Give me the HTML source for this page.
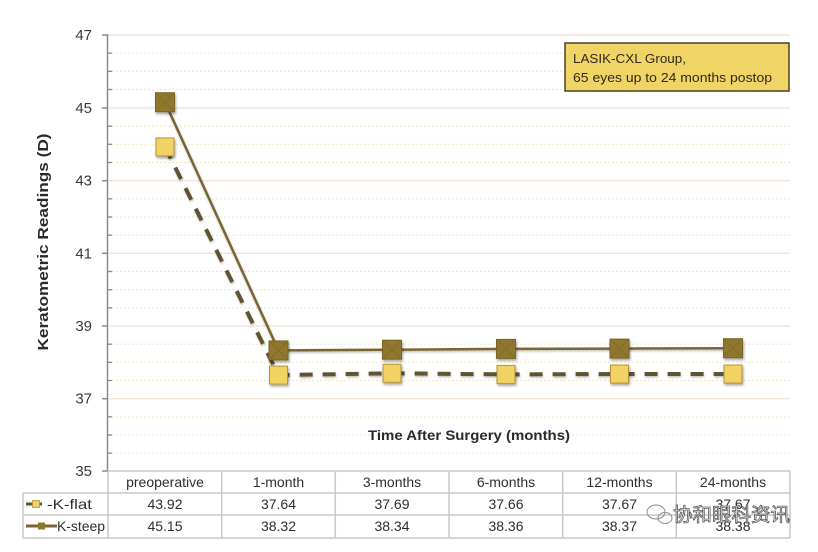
<!DOCTYPE html>
<html><head><meta charset="utf-8"><style>
html,body{margin:0;padding:0;background:#fff;}
svg{display:block;}
text{font-family:"Liberation Sans","Noto Sans CJK SC",sans-serif;}
</style></head><body>
<svg width="818" height="552" viewBox="0 0 818 552" xmlns="http://www.w3.org/2000/svg">
<defs>
<filter id="sh" x="-30%" y="-30%" width="160%" height="160%">
<feDropShadow dx="1" dy="2" stdDeviation="1.2" flood-color="#000" flood-opacity="0.35"/>
</filter>
<filter id="lsh" x="-10%" y="-10%" width="120%" height="120%">
<feDropShadow dx="0.5" dy="1.5" stdDeviation="1" flood-color="#000" flood-opacity="0.25"/>
</filter>
</defs>
<rect width="818" height="552" fill="#fff"/>

<!-- minor dotted gridlines -->
<g stroke="#eeecc8" stroke-width="1.2" stroke-dasharray="2,2">
<line x1="108" x2="790" y1="53.2" y2="53.2"/>
<line x1="108" x2="790" y1="71.3" y2="71.3"/>
<line x1="108" x2="790" y1="89.5" y2="89.5"/>
<line x1="108" x2="790" y1="126.2" y2="126.2"/>
<line x1="108" x2="790" y1="144.3" y2="144.3"/>
<line x1="108" x2="790" y1="162.5" y2="162.5"/>
<line x1="108" x2="790" y1="198.8" y2="198.8"/>
<line x1="108" x2="790" y1="217" y2="217"/>
<line x1="108" x2="790" y1="235.2" y2="235.2"/>
<line x1="108" x2="790" y1="271.5" y2="271.5"/>
<line x1="108" x2="790" y1="289.7" y2="289.7"/>
<line x1="108" x2="790" y1="307.8" y2="307.8"/>
<line x1="108" x2="790" y1="344.2" y2="344.2"/>
<line x1="108" x2="790" y1="362.3" y2="362.3"/>
<line x1="108" x2="790" y1="380.5" y2="380.5"/>
<line x1="108" x2="790" y1="416.8" y2="416.8"/>
<line x1="108" x2="790" y1="435" y2="435"/>
<line x1="108" x2="790" y1="453.2" y2="453.2"/>
</g>
<!-- major gridlines -->
<g stroke="#f4e6da" stroke-width="1.5">
<line x1="108" x2="790" y1="35" y2="35"/>
<line x1="108" x2="790" y1="108" y2="108"/>
<line x1="108" x2="790" y1="180.7" y2="180.7"/>
<line x1="108" x2="790" y1="253.3" y2="253.3"/>
<line x1="108" x2="790" y1="326" y2="326"/>
<line x1="108" x2="790" y1="398.7" y2="398.7"/>
</g>

<!-- y axis -->
<g stroke="#8a8a8a" stroke-width="1.5">
<line x1="107.5" x2="107.5" y1="35" y2="471"/>
<line x1="102" x2="108" y1="35" y2="35"/>
<line x1="102" x2="108" y1="108" y2="108"/>
<line x1="102" x2="108" y1="180.7" y2="180.7"/>
<line x1="102" x2="108" y1="253.3" y2="253.3"/>
<line x1="102" x2="108" y1="326" y2="326"/>
<line x1="102" x2="108" y1="398.7" y2="398.7"/>
<line x1="102" x2="108" y1="471" y2="471"/>
</g>
<g stroke="#8a8a8a" stroke-width="1.3">
<line x1="107" x2="112" y1="53.2" y2="53.2"/><line x1="107" x2="112" y1="71.3" y2="71.3"/><line x1="107" x2="112" y1="89.5" y2="89.5"/>
<line x1="107" x2="112" y1="126.2" y2="126.2"/><line x1="107" x2="112" y1="144.3" y2="144.3"/><line x1="107" x2="112" y1="162.5" y2="162.5"/>
<line x1="107" x2="112" y1="198.8" y2="198.8"/><line x1="107" x2="112" y1="217" y2="217"/><line x1="107" x2="112" y1="235.2" y2="235.2"/>
<line x1="107" x2="112" y1="271.5" y2="271.5"/><line x1="107" x2="112" y1="289.7" y2="289.7"/><line x1="107" x2="112" y1="307.8" y2="307.8"/>
<line x1="107" x2="112" y1="344.2" y2="344.2"/><line x1="107" x2="112" y1="362.3" y2="362.3"/><line x1="107" x2="112" y1="380.5" y2="380.5"/>
<line x1="107" x2="112" y1="416.8" y2="416.8"/><line x1="107" x2="112" y1="435" y2="435"/><line x1="107" x2="112" y1="453.2" y2="453.2"/>
</g>
<g font-size="15" fill="#3a3a3a" text-anchor="end">
<text x="92" y="40">47</text>
<text x="92" y="113">45</text>
<text x="92" y="185.7">43</text>
<text x="92" y="258.3">41</text>
<text x="92" y="331">39</text>
<text x="92" y="403.7">37</text>
<text x="92" y="476">35</text>
</g>
<text transform="translate(48,242) rotate(-90)" text-anchor="middle" font-size="15" font-weight="bold" fill="#2a2a2a" textLength="217" lengthAdjust="spacingAndGlyphs">Keratometric Readings (D)</text>

<text x="469" y="440" text-anchor="middle" font-size="14" font-weight="bold" fill="#2a2a2a" textLength="202" lengthAdjust="spacingAndGlyphs">Time After Surgery (months)</text>

<!-- annotation -->
<rect x="565" y="43" width="224" height="48" fill="#f1d466" stroke="#4a4024" stroke-width="1.5"/>
<text x="573" y="63" font-size="13" fill="#2e2a1a" textLength="113" lengthAdjust="spacingAndGlyphs">LASIK-CXL Group,</text>
<text x="573" y="82" font-size="13" fill="#2e2a1a" textLength="199" lengthAdjust="spacingAndGlyphs">65 eyes up to 24 months postop</text>

<!-- lines -->
<g filter="url(#lsh)">
<polyline points="165,146.9 278.5,375.1 392,373.3 506,374.4 619.5,374 733,374" fill="none" stroke="#5e5332" stroke-width="4" stroke-dasharray="13,10"/>
<polyline points="165,102.2 278.5,350.4 392,349.7 506,348.9 619.5,348.6 733,348.2" fill="none" stroke="#7a6530" stroke-width="2.5"/>
</g>

<!-- flat markers -->
<g filter="url(#sh)" fill="#f2d263" stroke="#b3953c" stroke-width="1">
<rect x="156" y="137.9" width="18" height="18"/>
<rect x="269.5" y="366.1" width="18" height="18"/>
<rect x="383" y="364.3" width="18" height="18"/>
<rect x="497" y="365.4" width="18" height="18"/>
<rect x="610.5" y="365" width="18" height="18"/>
<rect x="724" y="365" width="18" height="18"/>
</g>
<!-- steep markers -->
<g filter="url(#sh)" fill="#90772f" stroke="#7a6325" stroke-width="1">
<rect x="155.5" y="92.7" width="19" height="19"/>
<rect x="269" y="340.9" width="19" height="19"/>
<rect x="382.5" y="340.2" width="19" height="19"/>
<rect x="496.5" y="339.4" width="19" height="19"/>
<rect x="610" y="339.1" width="19" height="19"/>
<rect x="723.5" y="338.7" width="19" height="19"/>
</g>
<g stroke="#6e5a22" stroke-width="1" opacity="0.4">
<path d="M157,94.2 l16,16 M173,94.2 l-16,16"/>
<path d="M270.5,342.4 l16,16 M286.5,342.4 l-16,16"/>
<path d="M384,341.7 l16,16 M400,341.7 l-16,16"/>
<path d="M498,340.9 l16,16 M514,340.9 l-16,16"/>
<path d="M611.5,340.6 l16,16 M627.5,340.6 l-16,16"/>
<path d="M725,340.2 l16,16 M741,340.2 l-16,16"/>
</g>

<!-- data table -->
<g stroke="#c9c9c9" stroke-width="1.5" fill="none">
<line x1="108" x2="790" y1="471" y2="471"/>
<line x1="23" x2="790" y1="493" y2="493"/>
<line x1="23" x2="790" y1="515" y2="515"/>
<line x1="23" x2="790" y1="538" y2="538"/>
<line x1="23" x2="23" y1="493" y2="538"/>
<line x1="108" x2="108" y1="471" y2="538"/>
<line x1="221.7" x2="221.7" y1="471" y2="538"/>
<line x1="335.3" x2="335.3" y1="471" y2="538"/>
<line x1="449" x2="449" y1="471" y2="538"/>
<line x1="562.7" x2="562.7" y1="471" y2="538"/>
<line x1="676.3" x2="676.3" y1="471" y2="538"/>
<line x1="790" x2="790" y1="471" y2="538"/>
</g>
<g font-size="14" fill="#2e2e2e" text-anchor="middle">
<text x="165" y="487">preoperative</text>
<text x="278.5" y="487">1-month</text>
<text x="392" y="487">3-months</text>
<text x="506" y="487">6-months</text>
<text x="619.5" y="487">12-months</text>
<text x="733" y="487">24-months</text>
<text x="165" y="509">43.92</text>
<text x="278.5" y="509">37.64</text>
<text x="392" y="509">37.69</text>
<text x="506" y="509">37.66</text>
<text x="619.5" y="509">37.67</text>
<text x="733" y="509">37.67</text>
<text x="165" y="531">45.15</text>
<text x="278.5" y="531">38.32</text>
<text x="392" y="531">38.34</text>
<text x="506" y="531">38.36</text>
<text x="619.5" y="531">38.37</text>
<text x="733" y="531">38.38</text>
</g>
<!-- legend keys -->
<line x1="26" x2="42" y1="504" y2="504" stroke="#5e5332" stroke-width="3"/>
<rect x="32.5" y="500.5" width="7" height="7" fill="#f2d263" stroke="#b3953c" stroke-width="0.8"/>
<text x="47" y="509" font-size="14" fill="#2e2e2e" textLength="45" lengthAdjust="spacingAndGlyphs">-K-flat</text>
<line x1="26" x2="57" y1="526" y2="526" stroke="#7a6530" stroke-width="3"/>
<rect x="38" y="522.5" width="7" height="7" fill="#90772f"/>
<text x="57" y="531" font-size="14" fill="#2e2e2e" textLength="48" lengthAdjust="spacingAndGlyphs">K-steep</text>

<!-- watermark -->
<g fill="none" stroke="#8a8a8a" stroke-width="1">
<ellipse cx="656" cy="512" rx="9" ry="7"/>
<ellipse cx="665" cy="518" rx="7" ry="5.5"/>
</g>
<text x="673" y="521" font-size="19" fill="#ffffff" stroke="#5a5a5a" stroke-width="0.8" textLength="117" lengthAdjust="spacingAndGlyphs" style='font-family:"Noto Sans CJK SC",sans-serif'>协和眼科资讯</text>
</svg>
</body></html>
